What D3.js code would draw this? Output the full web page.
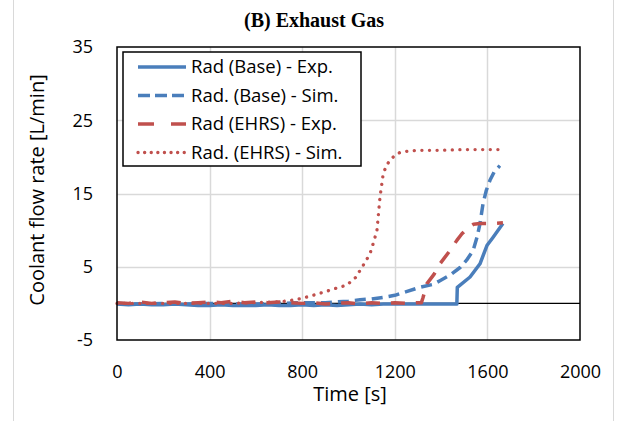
<!DOCTYPE html>
<html>
<head>
<meta charset="utf-8">
<script src="https://cdn.jsdelivr.net/npm/d3@7"></script>
<style>
  body { margin: 0; background: #fff; }
</style>
</head>
<body>
<div id="chart"></div>
<script>
// series: time [s] and coolant flow rate [L/min]
var baseExpT = [0, 50, 100, 150, 200, 250, 300, 350, 400, 450, 500, 550, 600, 650, 700, 750, 800, 850, 900, 950, 1000, 1050, 1100, 1150, 1200, 1250, 1300, 1350, 1400, 1450, 1468, 1470, 1482, 1525, 1568, 1598, 1624, 1667];
var baseExpV = [-0.1, -0.2, -0.1, -0.2, -0.2, -0.1, -0.2, -0.3, -0.3, -0.2, -0.3, -0.3, -0.3, -0.2, -0.3, -0.3, -0.2, -0.3, -0.2, -0.3, -0.2, -0.1, -0.2, -0.1, -0.1, -0.1, -0.1, -0.1, -0.1, -0.1, -0.1, 2.2, 2.5, 3.6, 5.4, 7.9, 9.0, 10.9];

var baseSimT = [0, 100, 200, 300, 400, 500, 600, 700, 800, 900, 950, 1000, 1050, 1100, 1166, 1200, 1250, 1309, 1366, 1395, 1440, 1482, 1510, 1538, 1555, 1568, 1581, 1595, 1611, 1630, 1654];
var baseSimV = [0.0, -0.1, 0.0, -0.1, 0.0, -0.1, -0.1, 0.0, 0.1, 0.1, 0.2, 0.3, 0.5, 0.6, 0.9, 1.1, 1.6, 2.2, 2.6, 3.1, 3.9, 4.9, 5.9, 7.2, 9.0, 10.9, 13.6, 15.4, 16.8, 18.0, 18.8];

var ehrsExpT = [0, 50, 100, 150, 200, 250, 300, 350, 400, 450, 500, 550, 600, 650, 700, 750, 800, 850, 900, 950, 1000, 1050, 1100, 1150, 1200, 1250, 1300, 1315, 1322, 1339, 1370, 1395, 1438, 1468, 1490, 1512, 1540, 1568, 1620, 1667];
var ehrsExpV = [0.1, 0.0, 0.2, 0.0, 0.1, 0.2, 0.0, 0.1, 0.2, 0.1, 0.3, 0.1, 0.2, 0.1, 0.2, 0.1, 0.0, 0.1, -0.1, 0.0, 0.1, -0.1, 0.1, 0.0, 0.1, 0.0, 0.1, 0.1, 0.8, 2.7, 4.0, 5.4, 7.2, 8.6, 9.5, 10.2, 10.8, 10.9, 10.9, 11.0];

var ehrsSimT = [0, 100, 200, 300, 400, 500, 600, 700, 750, 800, 847, 900, 950, 993, 1030, 1050, 1075, 1093, 1110, 1123, 1136, 1150, 1165, 1179, 1200, 1222, 1260, 1300, 1400, 1500, 1600, 1667];
var ehrsSimV = [0.0, 0.0, 0.0, 0.0, 0.0, 0.0, 0.1, 0.2, 0.4, 0.7, 1.1, 1.6, 2.1, 2.5, 3.5, 4.5, 5.8, 6.8, 8.5, 10.0, 14.5, 17.7, 18.9, 19.5, 20.2, 20.6, 20.8, 20.9, 20.9, 21.0, 21.0, 21.0];

var xTicks = [0, 400, 800, 1200, 1600, 2000];
var yTicks = [-5, 5, 15, 25, 35];
var seriesNames = ["Rad (Base) - Exp.", "Rad. (Base) - Sim.", "Rad (EHRS) - Exp.", "Rad. (EHRS) - Sim."];

var blue = "#4a7ebb", red = "#c0504d";
var styles = [
  {color: blue, width: 3.5, dash: null, cap: "butt"},
  {color: blue, width: 3.5, dash: "11,6", cap: "butt"},
  {color: red, width: 3.5, dash: "14,11", cap: "butt"},
  {color: red, width: 3.3, dash: "0.1,7.5", cap: "round"}
];

var width = 620, height = 421;
var margin = {top: 47, right: 40, bottom: 81, left: 117};
var innerW = width - margin.left - margin.right;
var innerH = height - margin.top - margin.bottom;
var sans = "'Open Sans', 'Noto Sans', sans-serif";

var svg = d3.select("#chart").append("svg")
    .attr("width", width)
    .attr("height", height);

// faint chart-area borders at the sides
svg.append("line").attr("x1", 13.5).attr("x2", 13.5).attr("y1", 0).attr("y2", height)
    .attr("stroke", "#d9d9d9");
svg.append("line").attr("x1", 613.5).attr("x2", 613.5).attr("y1", 0).attr("y2", height)
    .attr("stroke", "#d9d9d9");

var x = d3.scaleLinear().domain([0, 2000]).range([0, innerW]);
var y = d3.scaleLinear().domain([-5, 35]).range([innerH, 0]);

var g = svg.append("g").attr("transform", "translate(" + margin.left + "," + margin.top + ")");

// gridlines
g.selectAll(".vgrid").data(xTicks.slice(1, -1)).enter().append("line")
    .attr("x1", d => Math.round(x(d)) + 0.5).attr("x2", d => Math.round(x(d)) + 0.5)
    .attr("y1", 0).attr("y2", innerH)
    .attr("stroke", "#d9d9d9").attr("stroke-width", 1.5);
g.selectAll(".hgrid").data(yTicks.slice(1, -1)).enter().append("line")
    .attr("x1", 0).attr("x2", innerW)
    .attr("y1", d => Math.round(y(d)) + 0.5).attr("y2", d => Math.round(y(d)) + 0.5)
    .attr("stroke", "#d9d9d9").attr("stroke-width", 1.5);

// zero line
g.append("line").attr("x1", 0).attr("x2", innerW)
    .attr("y1", y(0)).attr("y2", y(0))
    .attr("stroke", "#000").attr("stroke-width", 1.2);

// axes labels (ticks drawn via d3 axis, domain removed)
var xAxis = g.append("g").attr("transform", "translate(0," + innerH + ")")
    .call(d3.axisBottom(x).tickValues(xTicks).tickSize(0).tickPadding(25).tickFormat(d => String(d)));
xAxis.select(".domain").remove();
xAxis.attr("font-size", 18).attr("font-family", sans);
xAxis.selectAll("text").attr("fill", "#000");

var yAxis = g.append("g")
    .call(d3.axisLeft(y).tickValues(yTicks).tickSize(0).tickPadding(24).tickFormat(d => String(d)));
yAxis.select(".domain").remove();
yAxis.attr("font-size", 18).attr("font-family", sans);
yAxis.selectAll("text").attr("fill", "#000");

// series
var line = d3.line().x(d => x(d[0])).y(d => y(d[1]));
var series = [
  d3.zip(baseExpT, baseExpV),
  d3.zip(baseSimT, baseSimV),
  d3.zip(ehrsExpT, ehrsExpV),
  d3.zip(ehrsSimT, ehrsSimV)
];
series.forEach(function(s, i) {
  var st = styles[i];
  g.append("path")
    .attr("d", line(s))
    .attr("fill", "none")
    .attr("stroke", st.color)
    .attr("stroke-width", st.width)
    .attr("stroke-dasharray", st.dash)
    .attr("stroke-linecap", st.cap)
    .attr("stroke-linejoin", "round");
});

// plot border
g.append("rect").attr("x", 0).attr("y", 0).attr("width", innerW).attr("height", innerH)
    .attr("fill", "none").attr("stroke", "#000").attr("stroke-width", 1.5);

// legend
var leg = svg.append("g").attr("transform", "translate(123,52)");
leg.append("rect").attr("x", 0).attr("y", 0).attr("width", 238).attr("height", 114)
    .attr("fill", "#fff").attr("stroke", "#000").attr("stroke-width", 1.5);
seriesNames.forEach(function(name, i) {
  var st = styles[i];
  var yy = 15 + i * 28.5;
  leg.append("line").attr("x1", 15).attr("x2", 63).attr("y1", yy).attr("y2", yy)
    .attr("stroke", st.color).attr("stroke-width", st.width)
    .attr("stroke-dasharray", i == 2 ? "16,17" : (i == 1 ? "12,5" : (i == 3 ? "0.1,6.5" : st.dash)))
    .attr("stroke-linecap", st.cap);
  leg.append("text").attr("x", 68).attr("y", yy).attr("dy", "0.35em")
    .attr("font-family", sans).attr("font-size", 18.5).text(name);
});

// titles
svg.append("text").attr("x", 314).attr("y", 27).attr("text-anchor", "middle")
    .attr("font-family", "'Liberation Serif', 'Times New Roman', serif")
    .attr("font-weight", "bold").attr("font-size", 20).text("(B) Exhaust Gas");

svg.append("text").attr("x", 350).attr("y", 401).attr("text-anchor", "middle")
    .attr("font-family", sans).attr("font-size", 20).text("Time [s]");

svg.append("text").attr("transform", "translate(44,190) rotate(-90)")
    .attr("font-family", sans).attr("text-anchor", "middle").attr("font-size", 20)
    .text("Coolant flow rate [L/min]");
</script>
</body>
</html>
